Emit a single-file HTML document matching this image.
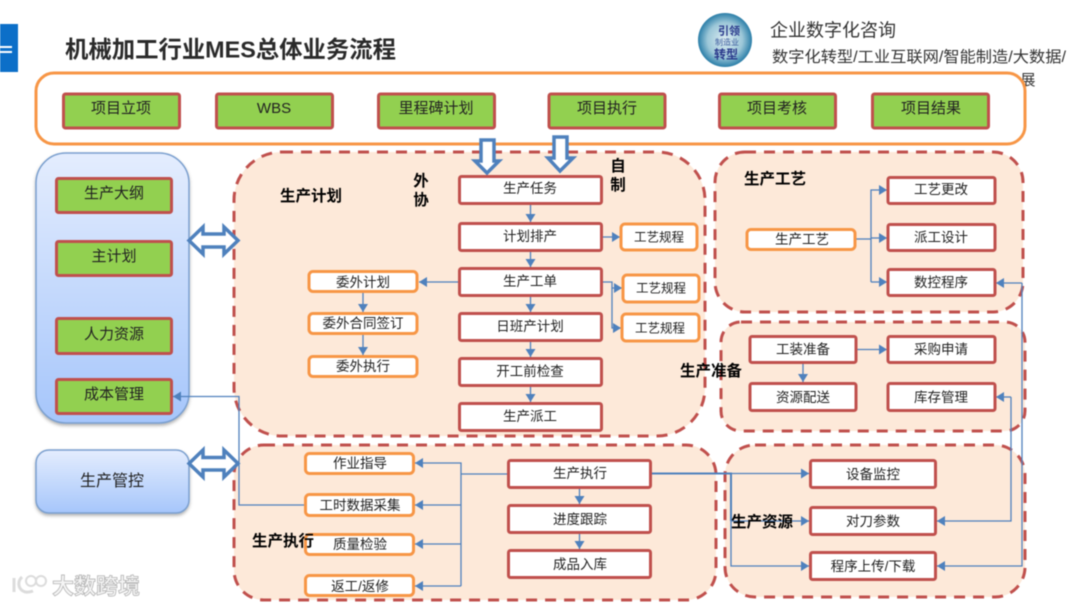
<!DOCTYPE html>
<html lang="zh"><head><meta charset="utf-8"><title>机械加工行业MES总体业务流程</title>
<style>
html,body{margin:0;padding:0;background:#fff}
svg{display:block;filter:blur(.4px)}
text{font-family:"Liberation Sans","Noto Sans CJK SC",sans-serif;fill:#222;text-anchor:middle;dominant-baseline:central;transform:translateY(1.500px)}
.g{fill:#92d050;stroke:#c0504d;stroke-width:3}
.r{fill:#fff;stroke:#c0504d;stroke-width:3}
.o{fill:#fff;stroke:#f79646;stroke-width:3}
.p{fill:#fde9d9;stroke:#c0504d;stroke-width:3;stroke-dasharray:11 8}
.c{fill:none;stroke:#4f81bd;stroke-width:1.300}
.ca{fill:none;stroke:#4f81bd;stroke-width:1.300;marker-end:url(#m)}
.b{fill:#fff;stroke:#4f81bd;stroke-width:3.500;stroke-linejoin:miter}
.l{font-weight:700;font-size:15.500px;fill:#000}
.s{font-size:13.500px}.t{font-size:15px}.u{font-size:12.500px}
</style></head><body>
<svg width="1080" height="607" viewBox="0 0 1080 607" xmlns="http://www.w3.org/2000/svg">
<defs>
<marker id="m" markerUnits="userSpaceOnUse" markerWidth="9" markerHeight="10" refX="8" refY="5" orient="auto"><path d="M0 0L8 5L0 10Z" fill="#4f81bd"/></marker>
<linearGradient id="bg" x1="0" y1="0" x2="0" y2="1"><stop offset="0" stop-color="#e4edfe"/><stop offset="1" stop-color="#a6c6fb"/></linearGradient>
<radialGradient id="lg" cx=".5" cy=".5" r=".5"><stop offset="0" stop-color="#dfeef3"/><stop offset=".65" stop-color="#9cc7d8"/><stop offset="1" stop-color="#2b7ea8"/></radialGradient>
<filter id="sh" x="-10%" y="-10%" width="120%" height="125%"><feDropShadow dx="0" dy="2" stdDeviation="1.500" flood-color="#555" flood-opacity=".45"/></filter>
</defs>
<rect width="1080" height="607" fill="#fff"/>
<rect x="0" y="24" width="18" height="48" fill="#0c6fc8"/>
<rect x="0" y="46" width="12" height="2" fill="#fff"/><rect x="0" y="51" width="12" height="2" fill="#fff"/>
<text x="230.500" y="48" font-size="23.500" font-weight="700" style="fill:#2a2a2a" textLength="331" lengthAdjust="spacingAndGlyphs">机械加工行业MES总体业务流程</text>

<circle cx="725" cy="40" r="27" fill="url(#lg)"/>
<text x="729" y="30" font-size="11" font-weight="700" style="fill:#2b3a8c">引领</text>
<text x="727" y="41" font-size="8" style="fill:#3a5a9c">制造业</text>
<text x="726" y="53" font-size="12" font-weight="700" style="fill:#2b3a8c">转型</text>
<text x="833" y="29" font-size="18" style="fill:#333">企业数字化咨询</text>
<text x="919" y="56" font-size="15.500" style="fill:#333" textLength="294" lengthAdjust="spacingAndGlyphs">数字化转型/工业互联网/智能制造/大数据/</text>
<text x="1028" y="79" font-size="15" style="fill:#333">展</text>

<rect x="36" y="73" width="989" height="71" rx="18" fill="#fff" stroke="#f79646" stroke-width="3"/>
<g>
<rect class="g" rx="2" x="63.500" y="94" width="116" height="34"/><text class="t" x="121" y="107">项目立项</text>
<rect class="g" rx="2" x="216.500" y="94" width="116" height="34"/><text class="t" x="274" y="107">WBS</text>
<rect class="g" rx="2" x="378.500" y="94" width="116" height="34"/><text class="t" x="436" y="107">里程碑计划</text>
<rect class="g" rx="2" x="549" y="94" width="116" height="34"/><text class="t" x="607" y="107">项目执行</text>
<rect class="g" rx="2" x="719.500" y="94" width="116" height="34"/><text class="t" x="777" y="107">项目考核</text>
<rect class="g" rx="2" x="872.500" y="94" width="116" height="34"/><text class="t" x="931" y="107">项目结果</text>
</g>

<rect x="36" y="153" width="153" height="270" rx="30" fill="url(#bg)" stroke="#7ba0cf" stroke-width="1.500" filter="url(#sh)"/>
<rect class="g" rx="2" x="56.500" y="178.500" width="115" height="34"/><text class="t" x="114" y="192">生产大纲</text>
<rect class="g" rx="2" x="56.500" y="241.500" width="115" height="34"/><text class="t" x="114" y="255">主计划</text>
<rect class="g" rx="2" x="56.500" y="318.500" width="115" height="35"/><text class="t" x="114" y="333">人力资源</text>
<rect class="g" rx="2" x="56.500" y="379.500" width="115" height="34"/><text class="t" x="114" y="393">成本管理</text>
<rect x="36" y="450" width="153" height="63" rx="13" fill="url(#bg)" stroke="#7ba0cf" stroke-width="1.500" filter="url(#sh)"/>
<text x="112" y="480" font-size="16">生产管控</text>

<rect class="p" x="234" y="152" width="471" height="284" rx="48"/>
<rect class="p" x="715" y="152" width="308" height="160" rx="30"/>
<rect class="p" x="721" y="322" width="304" height="109" rx="20"/>
<rect class="p" x="234" y="445" width="482" height="155" rx="30"/>
<rect class="p" x="725" y="445" width="300" height="152" rx="30"/>

<path class="b" d="M481 140H494V161H499L487 173L475 161H481Z"/>
<path class="b" d="M554 137H567V158H573L560 171L548 158H554Z"/>
<path class="b" d="M189 240.500L203 227V234H224V227L238 240.500L224 254V247H203V254Z"/>
<path class="b" d="M189 463.500L203 450V457.500H224V450L238 463.500L224 477V470H203V477Z"/>

<path class="ca" d="M530.500 204V222"/><path class="ca" d="M530.500 252V267"/><path class="ca" d="M530.500 297V312"/><path class="ca" d="M530.500 342V357"/><path class="ca" d="M530.500 387V402"/>
<path class="ca" d="M603 237H620"/>
<path class="ca" d="M603 282H612V288H622"/><path class="ca" d="M612 288V328H621"/>
<path class="ca" d="M458 282H419"/>
<path class="ca" d="M363 293V312"/><path class="ca" d="M363 335V355"/>
<path class="c" d="M856 239H871"/><path class="ca" d="M871 282V190H887"/><path class="ca" d="M871 238H887"/><path class="ca" d="M871 282H887"/>
<path class="ca" d="M857 349.500H887"/><path class="ca" d="M803 364V382"/>
<path class="ca" d="M579.500 489V504"/><path class="ca" d="M579.500 534V549"/>
<path class="c" d="M507 474H461"/><path class="ca" d="M461 586V463H415"/><path class="ca" d="M461 505H415"/><path class="ca" d="M461 544H415"/><path class="ca" d="M461 586H415"/>
<path class="ca" d="M304 505H239V396.500H173"/>
<path class="ca" d="M652 473.500H809"/>
<path class="c" style="stroke-width:2" d="M652 473.500H731V521"/>
<path class="ca" d="M731 521H809"/><path class="ca" d="M731 521V566H809"/>
<path class="ca" d="M1022 283H996"/><path class="ca" d="M1022 283V566H937"/>
<path class="ca" d="M1011 397H996"/><path class="ca" d="M1011 397V521H937"/>

<rect class="r" rx="2" x="459.500" y="176.500" width="142" height="27"/><text class="s" x="530" y="187">生产任务</text>
<rect class="r" rx="2" x="459.500" y="223.500" width="142" height="27"/><text class="s" x="530" y="235">计划排产</text>
<rect class="r" rx="2" x="459.500" y="268.500" width="142" height="27"/><text class="s" x="530" y="280">生产工单</text>
<rect class="r" rx="2" x="459.500" y="313.500" width="142" height="27"/><text class="s" x="530" y="325">日班产计划</text>
<rect class="r" rx="2" x="459.500" y="358.500" width="142" height="27"/><text class="s" x="530" y="370">开工前检查</text>
<rect class="r" rx="2" x="459.500" y="403.500" width="142" height="27"/><text class="s" x="530" y="415">生产派工</text>
<rect class="o" x="621" y="224" width="76" height="26" rx="4"/><text class="u" x="659" y="236">工艺规程</text>
<rect class="o" x="623" y="275" width="76" height="27" rx="4"/><text class="u" x="661" y="287">工艺规程</text>
<rect class="o" x="622" y="314" width="77" height="27" rx="4"/><text class="u" x="660" y="327">工艺规程</text>
<rect class="o" x="309" y="271.500" width="108" height="20" rx="4"/><text class="s" x="363" y="281">委外计划</text>
<rect class="o" x="309" y="313.500" width="108" height="20" rx="4"/><text class="s" x="363" y="322">委外合同签订</text>
<rect class="o" x="309" y="356.500" width="108" height="20" rx="4"/><text class="s" x="363" y="365">委外执行</text>
<rect class="o" x="747" y="229.500" width="108" height="20" rx="4"/><text class="s" x="802" y="238">生产工艺</text>
<rect class="r" rx="2" x="888" y="177.500" width="107" height="26"/><text class="s" x="941" y="188">工艺更改</text>
<rect class="r" rx="2" x="888" y="224.500" width="107" height="26"/><text class="s" x="941" y="236">派工设计</text>
<rect class="r" rx="2" x="888" y="269.500" width="107" height="26"/><text class="s" x="941" y="281">数控程序</text>
<rect class="r" rx="2" x="750" y="336.500" width="106" height="26"/><text class="s" x="803" y="348">工装准备</text>
<rect class="r" rx="2" x="888" y="336.500" width="107" height="26"/><text class="s" x="941" y="348">采购申请</text>
<rect class="r" rx="2" x="750" y="383.500" width="106" height="27"/><text class="s" x="803" y="396">资源配送</text>
<rect class="r" rx="2" x="888" y="383.500" width="107" height="27"/><text class="s" x="941" y="396">库存管理</text>
<rect class="o" x="305.500" y="453.500" width="108" height="20" rx="4"/><text class="s" x="360" y="462">作业指导</text>
<rect class="o" x="305.500" y="494.500" width="108" height="21" rx="4"/><text class="s" x="360" y="504">工时数据采集</text>
<rect class="o" x="305.500" y="534.500" width="108" height="20" rx="4"/><text class="s" x="360" y="543">质量检验</text>
<rect class="o" x="305.500" y="575.500" width="108" height="20" rx="4"/><text class="s" x="360" y="585">返工/返修</text>
<rect class="r" rx="2" x="508.500" y="460.500" width="142" height="27"/><text class="s" x="580" y="472">生产执行</text>
<rect class="r" rx="2" x="508.500" y="505.500" width="142" height="27"/><text class="s" x="580" y="518">进度跟踪</text>
<rect class="r" rx="2" x="508.500" y="550.500" width="142" height="27"/><text class="s" x="580" y="563">成品入库</text>
<rect class="r" rx="2" x="810.500" y="460.500" width="125" height="27"/><text class="s" x="873" y="473">设备监控</text>
<rect class="r" rx="2" x="810.500" y="507.500" width="125" height="27"/><text class="s" x="873" y="520">对刀参数</text>
<rect class="r" rx="2" x="810.500" y="552.500" width="125" height="27"/><text class="s" x="873" y="565">程序上传/下载</text>

<text class="l" x="311" y="195">生产计划</text>
<text class="l" x="421" y="180">外</text><text class="l" x="421" y="199">协</text>
<text class="l" x="618" y="165">自</text><text class="l" x="618" y="184">制</text>
<text class="l" x="775" y="178">生产工艺</text>
<text class="l" x="711" y="370">生产准备</text>
<text class="l" x="283" y="540">生产执行</text>
<text class="l" x="762" y="521">生产资源</text>

<text x="96" y="585" font-size="22" font-weight="700" style="fill:#f5f5f5;stroke:#b5b5b5;stroke-width:.8px">大数跨境</text>
<path d="M14 578V592M22 577C15 583 20 596 33 591" fill="none" stroke="#dcdcdc" stroke-width="3"/>
<circle cx="31" cy="581" r="5" fill="none" stroke="#dcdcdc" stroke-width="2"/>
<circle cx="41" cy="581" r="5" fill="none" stroke="#dcdcdc" stroke-width="2"/>
</svg>
</body></html>
